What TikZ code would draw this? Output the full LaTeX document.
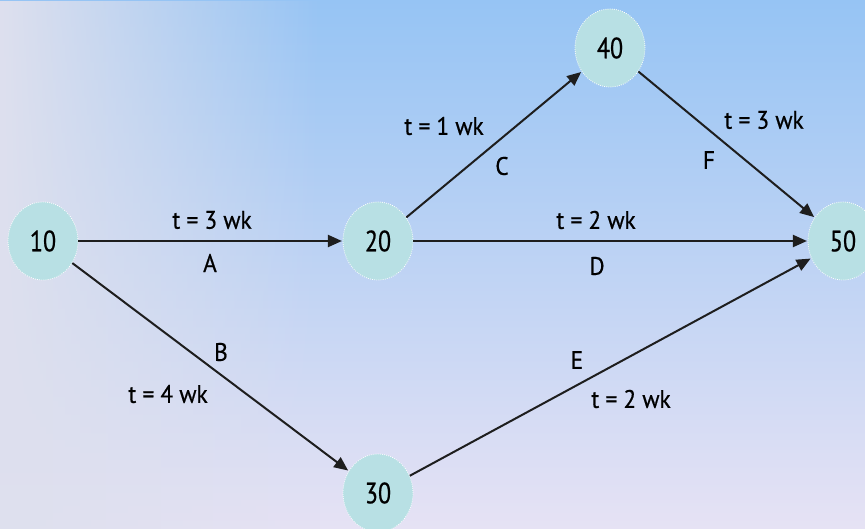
\documentclass[tikz,border=0pt]{standalone}
\usepackage{fontspec}
\setmainfont{PT Sans}
\newfontfamily\nodefont{PT Sans}[FakeStretch=0.82, FakeBold=0.6]
\newfontfamily\lblfont{PT Sans}[FakeStretch=0.92, FakeBold=0.6]
\usetikzlibrary{shapes.geometric,arrows.meta,fadings}
\definecolor{bgtop}{RGB}{150,196,244}
\definecolor{bgbot}{RGB}{230,226,244}
\definecolor{bgleft}{RGB}{222,224,238}
\definecolor{nodefill}{RGB}{184,224,228}
\definecolor{edgecol}{RGB}{30,30,30}
\tikzset{
  evnode/.style={ellipse, minimum width=52.5pt, minimum height=58.5pt, inner sep=0pt,
    fill=nodefill, draw=white, densely dotted, line width=0.6pt,
    font=\nodefont\fontsize{22}{24}\selectfont},
  act/.style={draw=edgecol, line width=1.5pt,
    -{Triangle[length=10.5pt,width=9pt]}, shorten >=0.5pt},
  lbl/.style={font=\lblfont\fontsize{19}{21}\selectfont, inner sep=0pt}
}
\begin{document}
\begin{tikzpicture}[x=0.75pt,y=-0.75pt]
\useasboundingbox (0,0) rectangle (865,529);
\shade[top color=bgtop, bottom color=bgbot] (0,0) rectangle (865,529);
\fill[bgleft, path fading=east] (0,0) rectangle (320,529);
\begin{scope}
\clip (0,0) rectangle (865,529);
\node[evnode] (n10) at (43,241) {10};
\node[evnode] (n20) at (378,241) {20};
\node[evnode] (n40) at (610,48) {40};
\node[evnode] (n50) at (843,241) {50};
\node[evnode] (n30) at (378,493) {30};
\end{scope}
\draw[act] (n10) -- (n20);
\draw[act] (n20) -- (n50);
\draw[act] (n20) -- (n40);
\draw[act] (n40) -- (n50);
\draw[act] (n10) -- (n30);
\draw[act] (n30) -- (n50);
\node[lbl] (la1) at (212,220) {t = 3 wk};
\node[lbl] (la2) at (210,263) {A};
\node[lbl] (ld1) at (596,220) {t = 2 wk};
\node[lbl] (ld2) at (597,266) {D};
\node[lbl] (lc1) at (444,126) {t = 1 wk};
\node[lbl] (lc2) at (502,166) {C};
\node[lbl] (lf1) at (764,120) {t = 3 wk};
\node[lbl] (lf2) at (709,160) {F};
\node[lbl] (lb2) at (221,352) {B};
\node[lbl] (lb1) at (168,394) {t = 4 wk};
\node[lbl] (le2) at (577,360) {E};
\node[lbl] (le1) at (631,399) {t = 2 wk};
\end{tikzpicture}
\end{document}
